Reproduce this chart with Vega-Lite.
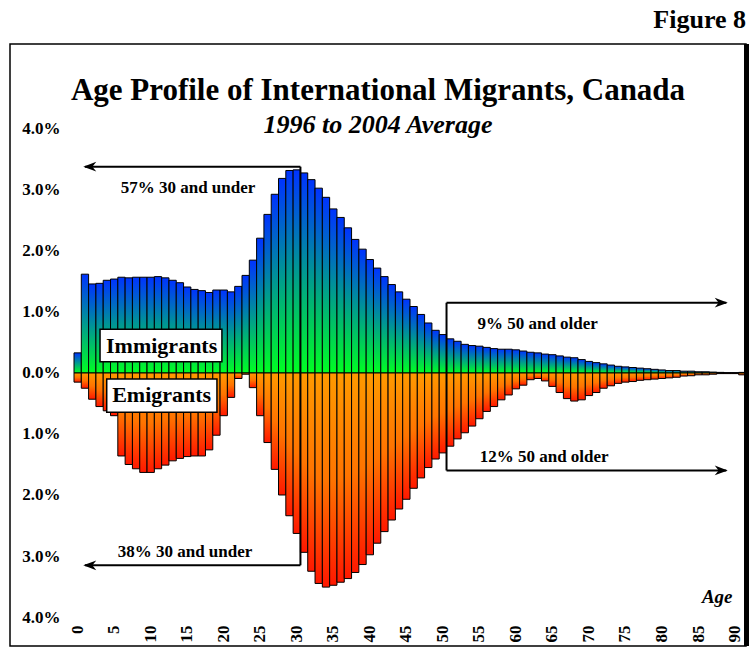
{
  "$schema": "https://vega.github.io/schema/vega-lite/v6.json",
  "width": 736,
  "height": 602,
  "autosize": "none",
  "padding": {"left": 10, "top": 44, "right": 3, "bottom": 3},
  "background": "white",
  "config": {
    "view": {"stroke": "#000", "strokeWidth": 1.5},
    "font": "Liberation Serif"
  },
  "title": {
    "text": "Age Profile of International Migrants, Canada",
    "subtitle": "1996 to 2004 Average",
    "anchor": "middle",
    "frame": "group",
    "offset": -132,
    "font": "Liberation Serif",
    "fontSize": 31,
    "fontWeight": "bold",
    "color": "#000",
    "subtitleFont": "Liberation Serif",
    "subtitleFontSize": 26,
    "subtitleFontStyle": "italic",
    "subtitleFontWeight": "bold",
    "subtitleColor": "#000",
    "subtitlePadding": 5
  },
  "data": {
    "values": [
      {"age": 0, "imm": 0.33, "emi": -0.15},
      {"age": 1, "imm": 1.62, "emi": -0.25},
      {"age": 2, "imm": 1.46, "emi": -0.43},
      {"age": 3, "imm": 1.47, "emi": -0.55},
      {"age": 4, "imm": 1.52, "emi": -0.62},
      {"age": 5, "imm": 1.54, "emi": -0.70},
      {"age": 6, "imm": 1.57, "emi": -1.36},
      {"age": 7, "imm": 1.56, "emi": -1.50},
      {"age": 8, "imm": 1.57, "emi": -1.57},
      {"age": 9, "imm": 1.57, "emi": -1.63},
      {"age": 10, "imm": 1.57, "emi": -1.63},
      {"age": 11, "imm": 1.58, "emi": -1.57},
      {"age": 12, "imm": 1.56, "emi": -1.51},
      {"age": 13, "imm": 1.52, "emi": -1.44},
      {"age": 14, "imm": 1.48, "emi": -1.40},
      {"age": 15, "imm": 1.41, "emi": -1.37},
      {"age": 16, "imm": 1.37, "emi": -1.36},
      {"age": 17, "imm": 1.35, "emi": -1.36},
      {"age": 18, "imm": 1.32, "emi": -1.26},
      {"age": 19, "imm": 1.36, "emi": -1.02},
      {"age": 20, "imm": 1.36, "emi": -0.70},
      {"age": 21, "imm": 1.33, "emi": -0.40},
      {"age": 22, "imm": 1.42, "emi": -0.09},
      {"age": 23, "imm": 1.60, "emi": -0.02},
      {"age": 24, "imm": 1.85, "emi": -0.24},
      {"age": 25, "imm": 2.21, "emi": -0.70},
      {"age": 26, "imm": 2.60, "emi": -1.14},
      {"age": 27, "imm": 2.93, "emi": -1.58},
      {"age": 28, "imm": 3.19, "emi": -2.00},
      {"age": 29, "imm": 3.32, "emi": -2.34},
      {"age": 30, "imm": 3.33, "emi": -2.63},
      {"age": 31, "imm": 3.28, "emi": -2.94},
      {"age": 32, "imm": 3.17, "emi": -3.25},
      {"age": 33, "imm": 3.03, "emi": -3.45},
      {"age": 34, "imm": 2.88, "emi": -3.51},
      {"age": 35, "imm": 2.69, "emi": -3.48},
      {"age": 36, "imm": 2.55, "emi": -3.43},
      {"age": 37, "imm": 2.38, "emi": -3.37},
      {"age": 38, "imm": 2.19, "emi": -3.27},
      {"age": 39, "imm": 2.03, "emi": -3.14},
      {"age": 40, "imm": 1.86, "emi": -2.98},
      {"age": 41, "imm": 1.72, "emi": -2.79},
      {"age": 42, "imm": 1.58, "emi": -2.60},
      {"age": 43, "imm": 1.45, "emi": -2.41},
      {"age": 44, "imm": 1.33, "emi": -2.23},
      {"age": 45, "imm": 1.21, "emi": -2.07},
      {"age": 46, "imm": 1.09, "emi": -1.89},
      {"age": 47, "imm": 0.96, "emi": -1.72},
      {"age": 48, "imm": 0.82, "emi": -1.55},
      {"age": 49, "imm": 0.70, "emi": -1.41},
      {"age": 50, "imm": 0.63, "emi": -1.31},
      {"age": 51, "imm": 0.56, "emi": -1.20},
      {"age": 52, "imm": 0.52, "emi": -1.08},
      {"age": 53, "imm": 0.47, "emi": -0.98},
      {"age": 54, "imm": 0.45, "emi": -0.87},
      {"age": 55, "imm": 0.44, "emi": -0.75},
      {"age": 56, "imm": 0.42, "emi": -0.63},
      {"age": 57, "imm": 0.40, "emi": -0.55},
      {"age": 58, "imm": 0.39, "emi": -0.44},
      {"age": 59, "imm": 0.39, "emi": -0.36},
      {"age": 60, "imm": 0.38, "emi": -0.26},
      {"age": 61, "imm": 0.36, "emi": -0.20},
      {"age": 62, "imm": 0.34, "emi": -0.11},
      {"age": 63, "imm": 0.33, "emi": -0.09},
      {"age": 64, "imm": 0.31, "emi": -0.13},
      {"age": 65, "imm": 0.30, "emi": -0.22},
      {"age": 66, "imm": 0.28, "emi": -0.32},
      {"age": 67, "imm": 0.26, "emi": -0.42},
      {"age": 68, "imm": 0.25, "emi": -0.46},
      {"age": 69, "imm": 0.22, "emi": -0.44},
      {"age": 70, "imm": 0.19, "emi": -0.37},
      {"age": 71, "imm": 0.17, "emi": -0.32},
      {"age": 72, "imm": 0.15, "emi": -0.25},
      {"age": 73, "imm": 0.13, "emi": -0.21},
      {"age": 74, "imm": 0.11, "emi": -0.17},
      {"age": 75, "imm": 0.10, "emi": -0.15},
      {"age": 76, "imm": 0.09, "emi": -0.14},
      {"age": 77, "imm": 0.08, "emi": -0.12},
      {"age": 78, "imm": 0.07, "emi": -0.11},
      {"age": 79, "imm": 0.06, "emi": -0.10},
      {"age": 80, "imm": 0.05, "emi": -0.09},
      {"age": 81, "imm": 0.04, "emi": -0.08},
      {"age": 82, "imm": 0.04, "emi": -0.07},
      {"age": 83, "imm": 0.03, "emi": -0.05},
      {"age": 84, "imm": 0.03, "emi": -0.045},
      {"age": 85, "imm": 0.02, "emi": -0.03},
      {"age": 86, "imm": 0.02, "emi": -0.03},
      {"age": 87, "imm": 0.015, "emi": -0.02},
      {"age": 88, "imm": 0.01, "emi": -0.01},
      {"age": 89, "imm": 0.005, "emi": -0.01},
      {"age": 90, "imm": 0.005, "emi": -0.01},
      {"age": 91, "imm": 0.01, "emi": -0.03}
    ]
  },
  "layer": [
    {
      "mark": {
        "type": "bar",
        "stroke": "#000",
        "strokeWidth": 1,
        "fill": {"gradient": "linear", "x1": 0, "y1": 1, "x2": 0, "y2": 0,
          "stops": [{"offset": 0, "color": "#00ff22"}, {"offset": 1, "color": "#0033ff"}]}
      },
      "encoding": {
        "x": {
          "field": "age", "type": "ordinal",
          "scale": {
            "domain": [0,1,2,3,4,5,6,7,8,9,10,11,12,13,14,15,16,17,18,19,20,21,22,23,24,25,26,27,28,29,30,31,32,33,34,35,36,37,38,39,40,41,42,43,44,45,46,47,48,49,50,51,52,53,54,55,56,57,58,59,60,61,62,63,64,65,66,67,68,69,70,71,72,73,74,75,76,77,78,79,80,81,82,83,84,85,86,87,88,89,90,91],
            "range": [64, 736],
            "paddingInner": 0, "paddingOuter": 0, "round": false
          },
          "axis": {
            "values": [0,5,10,15,20,25,30,35,40,45,50,55,60,65,70,75,80,85,90],
            "labelAngle": 270, "labelAlign": "right", "labelBaseline": "middle",
            "labelFont": "Liberation Serif", "labelFontSize": 17, "labelFontWeight": "bold", "labelColor": "#000",
            "labelOverlap": false, "labelPadding": 1,
            "domain": false, "ticks": false, "grid": false, "offset": -22,
            "title": "Age", "titleFont": "Liberation Serif", "titleFontSize": 19, "titleFontWeight": "bold",
            "titleFontStyle": "italic", "titleColor": "#000", "titleAngle": 0,
            "titleX": 722, "titleY": -22, "titleAlign": "right", "titleBaseline": "alphabetic"
          }
        },
        "y": {
          "field": "imm", "type": "quantitative",
          "scale": {"domain": [-4.4754, 5.3934], "nice": false, "zero": false},
          "axis": {
            "values": [-4,-3,-2,-1,0,1,2,3,4],
            "labelExpr": "format(abs(datum.value), '.1f') + '%'",
            "offset": -51, "domain": false, "ticks": false, "grid": false, "labelPadding": 1,
            "labelFont": "Liberation Serif", "labelFontSize": 17, "labelFontWeight": "bold", "labelColor": "#000",
            "labelOverlap": false, "title": null
          }
        }
      }
    },
    {
      "mark": {
        "type": "bar",
        "stroke": "#000",
        "strokeWidth": 1,
        "fill": {"gradient": "linear", "x1": 0, "y1": 0, "x2": 0, "y2": 1,
          "stops": [{"offset": 0, "color": "#ff9a00"}, {"offset": 0.5, "color": "#ff7400"}, {"offset": 1, "color": "#ff1800"}]}
      },
      "encoding": {
        "x": {"field": "age", "type": "ordinal"},
        "y": {"field": "emi", "type": "quantitative"}
      }
    },
    {
      "data": {"values": [{}]},
      "mark": {"type": "rect", "fill": "white", "stroke": "#000", "strokeWidth": 1.5},
      "encoding": {
        "x": {"datum": 3, "type": "ordinal", "bandPosition": 0.565},
        "x2": {"datum": 20, "bandPosition": 0.25},
        "y": {"datum": 0.716, "type": "quantitative"},
        "y2": {"datum": 0.185}
      }
    },
    {
      "data": {"values": [{}]},
      "mark": {"type": "rect", "fill": "white", "stroke": "#000", "strokeWidth": 1.5},
      "encoding": {
        "x": {"datum": 4, "type": "ordinal", "bandPosition": 0.48},
        "x2": {"datum": 19, "bandPosition": 0.57},
        "y": {"datum": -0.098, "type": "quantitative"},
        "y2": {"datum": -0.644}
      }
    },
    {
      "data": {"values": [{}]},
      "mark": {"type": "text", "text": "Immigrants", "font": "Liberation Serif", "fontSize": 22, "fontWeight": "bold", "color": "#000", "align": "center", "baseline": "alphabetic"},
      "encoding": {
        "x": {"datum": 12, "type": "ordinal", "bandPosition": 0},
        "y": {"datum": 0.323, "type": "quantitative"}
      }
    },
    {
      "data": {"values": [{}]},
      "mark": {"type": "text", "text": "Emigrants", "font": "Liberation Serif", "fontSize": 22, "fontWeight": "bold", "color": "#000", "align": "center", "baseline": "alphabetic"},
      "encoding": {
        "x": {"datum": 12, "type": "ordinal", "bandPosition": 0},
        "y": {"datum": -0.48, "type": "quantitative"}
      }
    },
    {
      "data": {"values": [{}]},
      "mark": {"type": "rule", "stroke": "#000", "strokeWidth": 2},
      "encoding": {
        "x": {"datum": 31, "type": "ordinal", "bandPosition": 0},
        "y": {"datum": 3.382, "type": "quantitative"},
        "y2": {"datum": 0}
      }
    },
    {
      "data": {"values": [{}]},
      "mark": {"type": "rule", "stroke": "#000", "strokeWidth": 2},
      "encoding": {
        "x": {"datum": 1, "type": "ordinal", "bandPosition": 0.5},
        "x2": {"datum": 31, "bandPosition": 0},
        "y": {"datum": 3.382, "type": "quantitative"}
      }
    },
    {
      "data": {"values": [{}]},
      "mark": {"type": "rule", "stroke": "#000", "strokeWidth": 2},
      "encoding": {
        "x": {"datum": 31, "type": "ordinal", "bandPosition": 0},
        "y": {"datum": -3.152, "type": "quantitative"},
        "y2": {"datum": 0}
      }
    },
    {
      "data": {"values": [{}]},
      "mark": {"type": "rule", "stroke": "#000", "strokeWidth": 2},
      "encoding": {
        "x": {"datum": 1, "type": "ordinal", "bandPosition": 0.5},
        "x2": {"datum": 31, "bandPosition": 0},
        "y": {"datum": -3.152, "type": "quantitative"}
      }
    },
    {
      "data": {"values": [{}]},
      "mark": {"type": "rule", "stroke": "#000", "strokeWidth": 2},
      "encoding": {
        "x": {"datum": 51, "type": "ordinal", "bandPosition": 0},
        "y": {"datum": 1.152, "type": "quantitative"},
        "y2": {"datum": 0}
      }
    },
    {
      "data": {"values": [{}]},
      "mark": {"type": "rule", "stroke": "#000", "strokeWidth": 2},
      "encoding": {
        "x": {"datum": 51, "type": "ordinal", "bandPosition": 0},
        "x2": {"datum": 89, "bandPosition": 0.3},
        "y": {"datum": 1.152, "type": "quantitative"}
      }
    },
    {
      "data": {"values": [{}]},
      "mark": {"type": "rule", "stroke": "#000", "strokeWidth": 2},
      "encoding": {
        "x": {"datum": 51, "type": "ordinal", "bandPosition": 0},
        "y": {"datum": -1.598, "type": "quantitative"},
        "y2": {"datum": 0}
      }
    },
    {
      "data": {"values": [{}]},
      "mark": {"type": "rule", "stroke": "#000", "strokeWidth": 2},
      "encoding": {
        "x": {"datum": 51, "type": "ordinal", "bandPosition": 0},
        "x2": {"datum": 89, "bandPosition": 0.3},
        "y": {"datum": -1.598, "type": "quantitative"}
      }
    },
    {
      "data": {"values": [{}]},
      "mark": {"type": "point", "shape": "M 0 0 L 2 -0.75 L 1.4 0 L 2 0.75 Z", "filled": true, "color": "#000", "opacity": 1, "size": 169},
      "encoding": {
        "x": {"datum": 1, "type": "ordinal", "bandPosition": 0.27},
        "y": {"datum": 3.382, "type": "quantitative"}
      }
    },
    {
      "data": {"values": [{}]},
      "mark": {"type": "point", "shape": "M 0 0 L 2 -0.75 L 1.4 0 L 2 0.75 Z", "filled": true, "color": "#000", "opacity": 1, "size": 169},
      "encoding": {
        "x": {"datum": 1, "type": "ordinal", "bandPosition": 0.27},
        "y": {"datum": -3.152, "type": "quantitative"}
      }
    },
    {
      "data": {"values": [{}]},
      "mark": {"type": "point", "shape": "M 0 0 L -2 -0.75 L -1.4 0 L -2 0.75 Z", "filled": true, "color": "#000", "opacity": 1, "size": 169},
      "encoding": {
        "x": {"datum": 89, "type": "ordinal", "bandPosition": 0.5},
        "y": {"datum": 1.152, "type": "quantitative"}
      }
    },
    {
      "data": {"values": [{}]},
      "mark": {"type": "point", "shape": "M 0 0 L -2 -0.75 L -1.4 0 L -2 0.75 Z", "filled": true, "color": "#000", "opacity": 1, "size": 169},
      "encoding": {
        "x": {"datum": 89, "type": "ordinal", "bandPosition": 0.5},
        "y": {"datum": -1.598, "type": "quantitative"}
      }
    },
    {
      "data": {"values": [{}]},
      "mark": {"type": "text", "text": "57% 30 and under", "font": "Liberation Serif", "fontSize": 17, "fontWeight": "bold", "color": "#000", "align": "center", "baseline": "alphabetic"},
      "encoding": {
        "x": {"datum": 15, "type": "ordinal", "bandPosition": 0.61},
        "y": {"datum": 2.956, "type": "quantitative"}
      }
    },
    {
      "data": {"values": [{}]},
      "mark": {"type": "text", "text": "38% 30 and under", "font": "Liberation Serif", "fontSize": 17, "fontWeight": "bold", "color": "#000", "align": "center", "baseline": "alphabetic"},
      "encoding": {
        "x": {"datum": 15, "type": "ordinal", "bandPosition": 0.2},
        "y": {"datum": -3.011, "type": "quantitative"}
      }
    },
    {
      "data": {"values": [{}]},
      "mark": {"type": "text", "text": "9% 50 and older", "font": "Liberation Serif", "fontSize": 17, "fontWeight": "bold", "color": "#000", "align": "center", "baseline": "alphabetic"},
      "encoding": {
        "x": {"datum": 63, "type": "ordinal", "bandPosition": 0.48},
        "y": {"datum": 0.721, "type": "quantitative"}
      }
    },
    {
      "data": {"values": [{}]},
      "mark": {"type": "text", "text": "12% 50 and older", "font": "Liberation Serif", "fontSize": 17, "fontWeight": "bold", "color": "#000", "align": "center", "baseline": "alphabetic"},
      "encoding": {
        "x": {"datum": 64, "type": "ordinal", "bandPosition": 0.37},
        "y": {"datum": -1.454, "type": "quantitative"}
      }
    },
    {
      "data": {"values": [{}]},
      "mark": {"type": "text", "text": "Figure 8", "font": "Liberation Serif", "fontSize": 26, "fontWeight": "bold", "color": "#000", "align": "right", "baseline": "alphabetic"},
      "encoding": {
        "x": {"datum": 91, "type": "ordinal", "bandPosition": 1},
        "y": {"datum": 5.656, "type": "quantitative"}
      }
    },
    {
      "data": {"values": [{}]},
      "mark": {"type": "rule", "stroke": "#000", "strokeWidth": 5, "xOffset": 0.5},
      "encoding": {
        "x": {"datum": 91, "type": "ordinal", "bandPosition": 1}
      }
    }
  ]
}
